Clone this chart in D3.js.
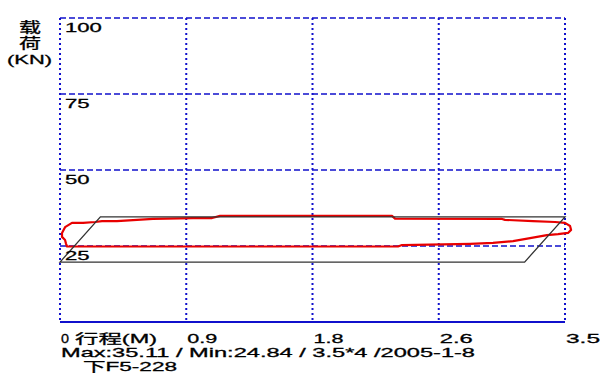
<!DOCTYPE html>
<html>
<head>
<meta charset="utf-8">
<script src="https://cdn.jsdelivr.net/npm/d3@7"></script>
<style>
  body { margin: 0; background: #fff; }
  text { font-family: "Liberation Sans", Arial, "Noto Sans CJK SC", sans-serif; fill: #000; stroke: #000; stroke-width: 0.3; }
</style>
</head>
<body>
<script>
// stroke (m) and load (KN) ticks
var xTickValues = [0, 0.875, 1.75, 2.625, 3.5];
var xTickLabels = ["0", "0.9", "1.8", "2.6", "3.5"];
var yTickValues = [25, 50, 75, 100];
var yTickLabels = ["25", "50", "75", "100"];

// measured card (red), clockwise from upper left
var cardStroke = [0.083, 0.160, 0.243, 0.291, 0.395, 0.645, 0.922, 1.054, 1.109, 2.301, 2.322,
  3.064, 3.084, 3.278, 3.431, 3.500, 3.535, 3.542, 3.521, 3.452, 3.375, 3.258, 3.140, 3.001,
  2.842, 2.370, 2.343, 0.049, 0.042, 0.035, 0.014, 0.014, 0.035];
var cardLoad = [32.6, 32.6, 32.9, 33.2, 33.2, 33.9, 34.2, 34.2, 34.9, 34.9, 34.0,
  33.9, 33.6, 33.2, 32.9, 32.6, 31.6, 30.3, 29.3, 28.9, 28.6, 27.6, 26.6, 26.0,
  25.7, 25.3, 24.84, 24.84, 25.7, 27.0, 28.0, 29.3, 31.2];

// theoretical card (black)
var theoStroke = [0, 0.28, 3.5, 3.22];
var theoLoad = [19.7, 34.6, 34.6, 19.7];

var infoLine = "Max:35.11 / Min:24.84 / 3.5*4 /2005-1-8";
var wellName = "下F5-228";

var svgWidth = 603;
var svgHeight = 390;
var margin = { top: 18, left: 60 };
var width = 505;
var height = 304;

var svg = d3.select("body")
  .append("svg")
  .attr("width", svgWidth)
  .attr("height", svgHeight);

var xScale = d3.scaleLinear().domain([0, 3.5]).range([margin.left, margin.left + width]);
var yScale = d3.scaleLinear().domain([0, 100]).range([margin.top + height, margin.top]);

var gridColor = "#1010cc";

// vertical dotted grid
svg.selectAll(".vgrid")
  .data(xTickValues)
  .enter()
  .append("line")
  .attr("x1", d => xScale(d))
  .attr("x2", d => xScale(d))
  .attr("y1", yScale(100))
  .attr("y2", yScale(0))
  .attr("stroke", gridColor)
  .attr("stroke-width", 2)
  .attr("stroke-dasharray", "2,3");

// horizontal dashed grid
svg.selectAll(".hgrid")
  .data(yTickValues)
  .enter()
  .append("line")
  .attr("x1", xScale(0))
  .attr("x2", xScale(3.5))
  .attr("y1", d => yScale(d))
  .attr("y2", d => yScale(d))
  .attr("stroke", gridColor)
  .attr("stroke-width", 1.6)
  .attr("stroke-dasharray", "6,3");

// bottom axis line
svg.append("line")
  .attr("x1", xScale(0))
  .attr("x2", xScale(3.5))
  .attr("y1", yScale(0))
  .attr("y2", yScale(0))
  .attr("stroke", gridColor)
  .attr("stroke-width", 2);

var line = d3.line()
  .x(d => xScale(d[0]))
  .y(d => yScale(d[1]))
  .curve(d3.curveLinearClosed);

svg.append("path")
  .datum(cardStroke.map((s, i) => [s, cardLoad[i]]))
  .attr("fill", "none")
  .attr("stroke", "#e80000")
  .attr("stroke-width", 2.2)
  .attr("stroke-linejoin", "round")
  .attr("d", line);

svg.append("path")
  .datum(theoStroke.map((s, i) => [s, theoLoad[i]]))
  .attr("fill", "none")
  .attr("stroke", "#333")
  .attr("stroke-width", 1.3)
  .attr("d", line);

function addText(x, y, str, w, size, anchor) {
  svg.append("text")
    .attr("x", x)
    .attr("y", y)
    .attr("font-size", size)
    .attr("text-anchor", anchor || "start")
    .attr("textLength", w)
    .attr("lengthAdjust", "spacingAndGlyphs")
    .text(str);
}

// y tick labels inside plot
yTickValues.forEach((v, i) => {
  addText(xScale(0) + 5, yScale(v) + 14, yTickLabels[i], yTickLabels[i].length * 12.3, 13);
});

// x tick labels
var xLabelWidths = [8, 30, 30, 33, 34];
xTickValues.forEach((v, i) => {
  addText(xScale(v) + 1, 343, xTickLabels[i], xLabelWidths[i], 13);
});

// axis titles
addText(30, 32, "载", 22, 14, "middle");
addText(30, 48, "荷", 22, 14, "middle");
addText(7, 64, "(KN)", 45, 13);
addText(75, 343, "行程(M)", 82, 13);

// footer
addText(61, 357, infoLine, 414, 13);
addText(83, 371, wellName, 94, 13);
</script>
</body>
</html>
